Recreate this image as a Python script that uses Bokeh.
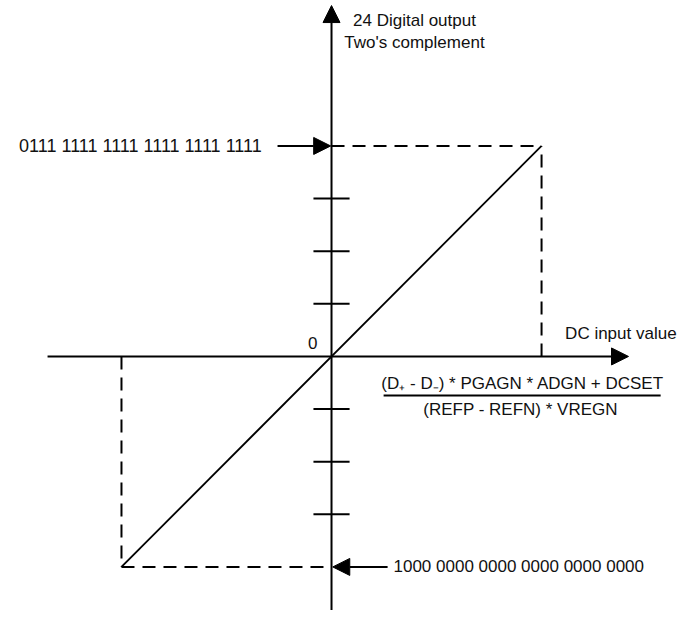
from bokeh.plotting import figure
from bokeh.models import Range1d, Arrow, NormalHead
from bokeh.core.properties import value
from bokeh.embed import file_html
from bokeh.resources import INLINE

# ---- data (normalized full-scale units) ----
input_full_scale = [-1.0, 1.0]      # DC input value at negative / positive full scale
output_code = [-1.0, 1.0]           # digital output at negative / positive full scale
tick_levels = [-0.75, -0.5, -0.25, 0.25, 0.5, 0.75]
max_code_label = "0111 1111 1111 1111 1111 1111"
min_code_label = "1000 0000 0000 0000 0000 0000"
y_axis_title = ["24 Digital output", "Two's complement"]
x_axis_title = "DC input value"
origin_label = "0"
numerator = "(D\u208a - D\u208b) * PGAGN * ADGN + DCSET"
denominator = "(REFP - REFN) * VREGN"

FONT = value("Liberation Sans")
FS = "17px"
INK = "#111111"

W, H = 678, 610
p = figure(width=W, height=H, output_backend="svg", toolbar_location=None,
           x_range=Range1d(-1.576, 1.652), y_range=Range1d(-1.207, 1.691),
           min_border=0)
p.axis.visible = False
p.grid.visible = False
p.outline_line_color = None
p.background_fill_color = "white"


def head():
    return NormalHead(size=17, fill_color="black", line_color="black", line_width=1)


# axes with arrow heads
p.add_layout(Arrow(end=head(), x_start=-1.352, y_start=0, x_end=1.414, y_end=0,
                   line_width=2, line_color="black"))
p.add_layout(Arrow(end=head(), x_start=0, y_start=-1.26, x_end=0, y_end=1.667,
                   line_width=2, line_color="black"))

# tick marks on vertical axis
tick_half = 0.086
p.segment(x0=[-tick_half] * len(tick_levels), x1=[tick_half] * len(tick_levels),
          y0=tick_levels, y1=tick_levels, line_color="black", line_width=2)

# transfer line
p.line(input_full_scale, output_code, line_color="black", line_width=1.8)

# dashed projections
dash = "13 8"
p.segment(x0=[0, input_full_scale[0]], x1=[input_full_scale[1], 0],
          y0=[output_code[1], output_code[0]], y1=[output_code[1], output_code[0]],
          line_color="black", line_width=2, line_dash=dash)
p.segment(x0=input_full_scale, x1=input_full_scale,
          y0=[0, 0], y1=output_code,
          line_color="black", line_width=2, line_dash=dash)

# code label arrows
p.add_layout(Arrow(end=head(), x_start=-0.257, y_start=output_code[1], x_end=-0.004, y_end=output_code[1],
                   line_width=2, line_color="black"))
p.add_layout(Arrow(end=head(), x_start=0.267, y_start=output_code[0], x_end=0.006, y_end=output_code[0],
                   line_width=2, line_color="black"))

p.text(x=[-0.910], y=[output_code[1]], text=[max_code_label], text_font=FONT,
       text_font_size="18px", text_align="center", text_baseline="middle", text_color=INK)
p.text(x=[0.295], y=[output_code[0]], text=[min_code_label], text_font=FONT,
       text_font_size=FS, text_align="left", text_baseline="middle", text_color=INK)

# axis titles
p.text(x=[0.395, 0.395], y=[1.596, 1.492], text=y_axis_title, text_font=FONT,
       text_font_size=FS, text_align="center", text_baseline="middle", text_color=INK)
p.text(x=[1.643], y=[0.109], text=[x_axis_title], text_font=FONT,
       text_font_size=FS, text_align="right", text_baseline="middle", text_color=INK)
p.text(x=[-0.09], y=[0.062], text=[origin_label], text_font=FONT,
       text_font_size=FS, text_align="center", text_baseline="middle", text_color=INK)

# fraction
p.text(x=[0.910], y=[-0.128], text=[numerator], text_font=FONT,
       text_font_size=FS, text_align="center", text_baseline="middle", text_color=INK)
p.segment(x0=[0.248], x1=[1.567], y0=[-0.185], y1=[-0.185], line_color="black", line_width=2)
p.text(x=[0.900], y=[-0.252], text=[denominator], text_font=FONT,
       text_font_size=FS, text_align="center", text_baseline="middle", text_color=INK)

open("out.html", "w").write(file_html(p, INLINE))
